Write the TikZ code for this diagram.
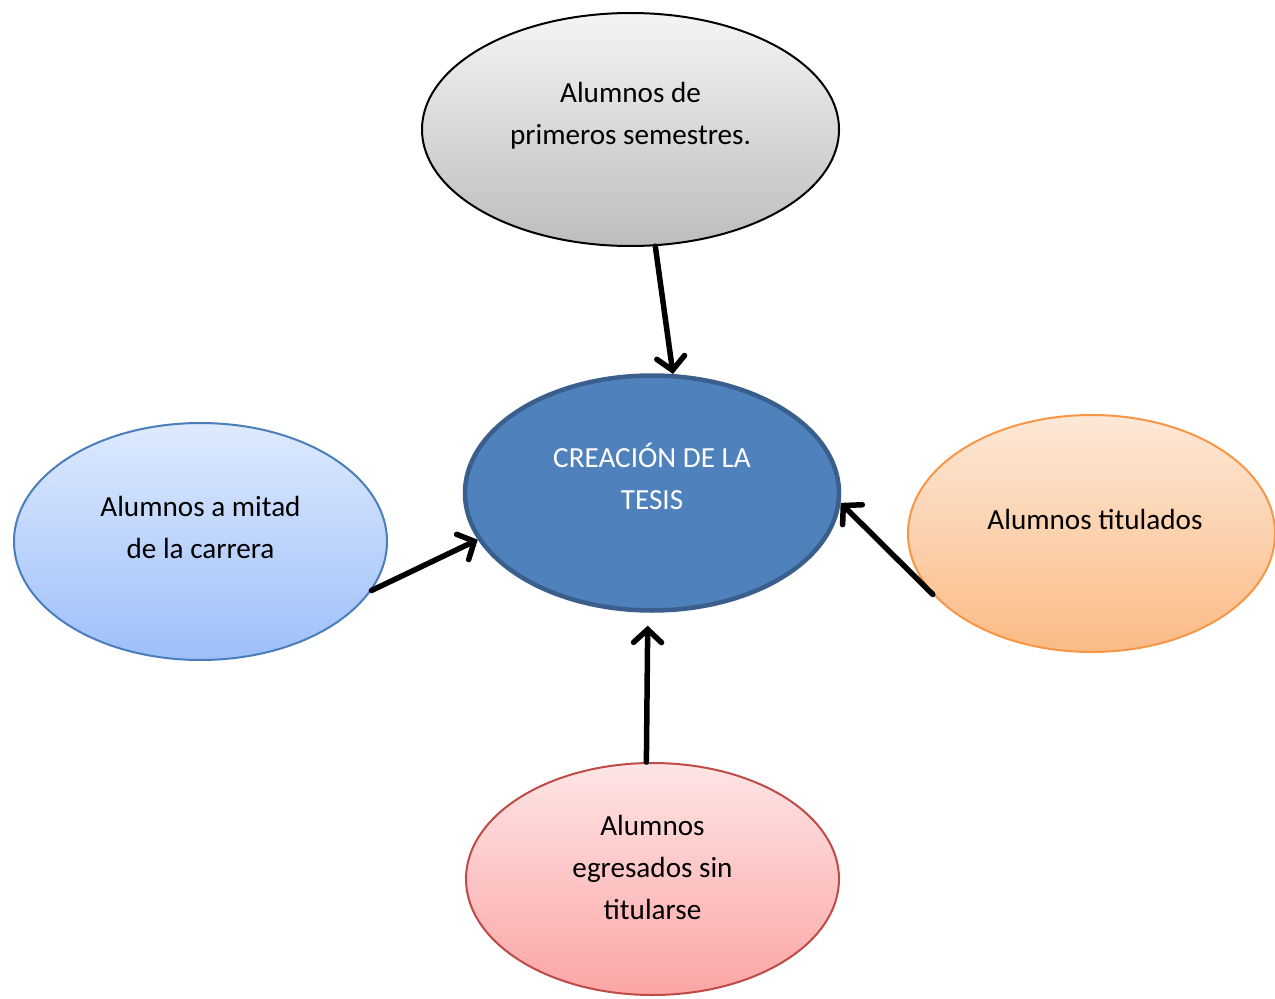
\documentclass[tikz,border=0pt]{standalone}
\usepackage{fontspec}
\setmainfont{Carlito}
\usetikzlibrary{shapes.geometric,arrows.meta}

\definecolor{grisA}{HTML}{F4F4F4}
\definecolor{grisB}{HTML}{BDBDBD}
\definecolor{azulA}{HTML}{DEEAFE}
\definecolor{azulB}{HTML}{9DBFF9}
\definecolor{azulC}{HTML}{4A7EBB}
\definecolor{azulT}{HTML}{4F81BD}
\definecolor{azulD}{HTML}{3A5F8C}
\definecolor{naranjaA}{HTML}{FDE8D7}
\definecolor{naranjaB}{HTML}{FBBB85}
\definecolor{naranjaC}{HTML}{F79646}
\definecolor{rosaA}{HTML}{FEE5E5}
\definecolor{rosaB}{HTML}{FCA5A5}
\definecolor{rosaC}{HTML}{BE4B48}

\begin{document}
\begin{tikzpicture}[x=0.1mm, y=-0.1mm,
  burbuja/.style={ellipse, draw, line width=0.2mm, inner sep=0pt},
  texto/.style={align=center, inner sep=0pt, font=\fontsize{8.3}{11.95}\selectfont},
  flecha/.style={line width=0.55mm, line cap=round,
    -{Straight Barb[length=1.3mm, width=2.8mm, line cap=round]}}]
  \useasboundingbox (0,0) rectangle (1275,998);

  % ellipses
  \node[burbuja, draw=black, top color=grisA, bottom color=grisB,
        minimum width=41.7mm, minimum height=23.3mm] (primeros) at (630.5,129.5) {};
  \node[burbuja, draw=azulD, line width=0.45mm, fill=azulT,
        minimum width=37.4mm, minimum height=23.5mm] (tesis) at (652,493) {};
  \node[burbuja, draw=azulC, top color=azulA, bottom color=azulB,
        minimum width=37.3mm, minimum height=23.7mm] (mitad) at (200.5,541.5) {};
  \node[burbuja, draw=naranjaC, top color=naranjaA, bottom color=naranjaB,
        minimum width=36.7mm, minimum height=23.7mm] (titulados) at (1091.5,533.5) {};
  \node[burbuja, draw=rosaC, top color=rosaA, bottom color=rosaB,
        minimum width=37.3mm, minimum height=23.2mm] (egresados) at (652.5,879) {};

  % texts
  \node[texto] (primeros-txt) at ([yshift=1.4mm]primeros.center) {Alumnos de\\primeros semestres.};
  \node[texto, text=white] (tesis-txt) at ([yshift=1.7mm]tesis.center) {CREACIÓN DE LA\\TESIS};
  \node[texto] (mitad-txt) at ([yshift=1.4mm]mitad.center) {Alumnos a mitad\\de la carrera};
  \node[texto] (titulados-txt) at ([xshift=0.35mm,yshift=1.4mm]titulados.center) {Alumnos titulados};
  \node[texto] (egresados-txt) at ([yshift=1.2mm]egresados.center) {Alumnos\\egresados sin\\titularse};

  \path[flecha]
  (primeros.-78.3) edge (tesis.80.5)
  (mitad.-16.7) edge (tesis.195.7)
  (titulados.201.1) edge (tesis.-3.9);
  \path[flecha, shorten >=1.3mm]
  (egresados.93.1) edge (tesis.-92.6);
\end{tikzpicture}
\end{document}
